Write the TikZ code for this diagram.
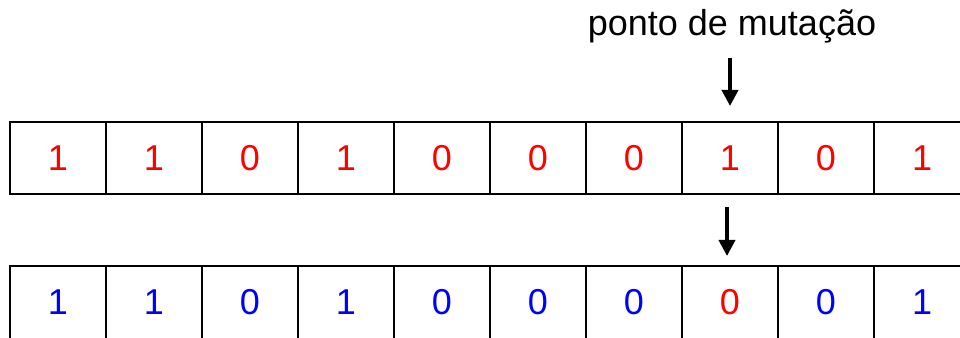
\documentclass[tikz,border=0pt]{standalone}
\usepackage{fontspec}
\setmainfont{Liberation Sans}
\usetikzlibrary{arrows.meta}
\definecolor{bitred}{RGB}{255,0,0}
\definecolor{bitblue}{RGB}{0,0,255}
\begin{document}
\begin{tikzpicture}[x=0.75pt,y=-0.75pt,
  cell/.style={draw=black,line width=1.5pt,minimum width=72pt,minimum height=54pt,inner sep=0pt,font=\fontsize{27}{30}\selectfont},
  redbit/.style={cell,text=bitred},
  bluebit/.style={cell,text=bitblue},
  mutarrow/.style={line width=2.8pt,-{Triangle[length=12pt,width=12pt]}}]
\useasboundingbox (0,0) rectangle (960,338);
\begin{scope}
\clip (0,0) rectangle (960,338);
\foreach \b [count=\i from 0] in {1,1,0,1,0,0,0,1,0,1}{
  \node[redbit] (t\i) at (58+96*\i,158.5) {\b};
}
\foreach \b/\s [count=\i from 0] in {1/bluebit,1/bluebit,0/bluebit,1/bluebit,0/bluebit,0/bluebit,0/bluebit,0/redbit,0/bluebit,1/bluebit}{
  \node[\s] (b\i) at (58+96*\i,302.5) {\b};
}
\end{scope}
\node[font=\fontsize{27}{30}\selectfont,anchor=base] (lbl) at (732,36) {ponto de mutação};
\coordinate (a1s) at (730,58);
\coordinate (a1e) at (730,106);
\coordinate (a2s) at (727,207);
\coordinate (a2e) at (727,256);
\draw[mutarrow] (a1s) -- (a1e);
\draw[mutarrow] (a2s) -- (a2e);
\end{tikzpicture}
\end{document}
